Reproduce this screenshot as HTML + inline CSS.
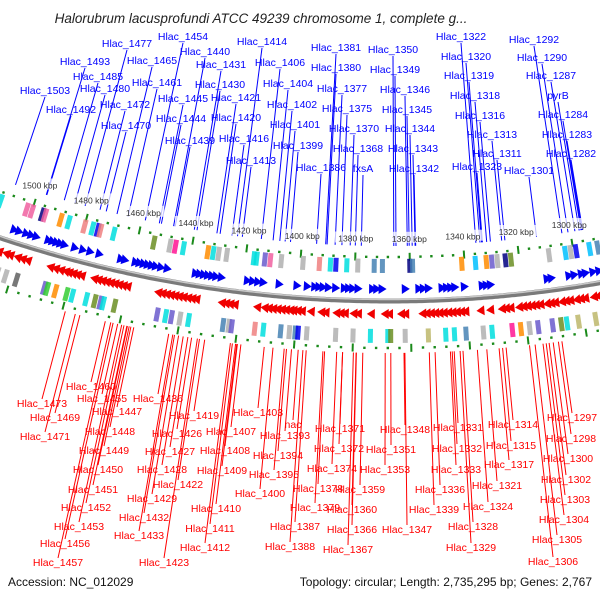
<!DOCTYPE html>
<html><head><meta charset="utf-8"><style>
html,body{margin:0;padding:0;background:#fff;}
svg{display:block;font-family:"Liberation Sans","DejaVu Sans",sans-serif;}
</style></head><body>
<svg id="map" width="600" height="600" viewBox="0 0 600 600" xmlns="http://www.w3.org/2000/svg">
<rect width="600" height="600" fill="#fff"/>
<text x="261" y="23" text-anchor="middle" font-size="13.5" font-style="italic" fill="#222">Halorubrum lacusprofundi ATCC 49239 chromosome 1, complete g...</text>
<g id="rings"></g>
<g id="labels"></g>
<text x="8" y="586" font-size="12" fill="#111">Accession: NC_012029</text>
<text x="592" y="586" text-anchor="end" font-size="12" fill="#111">Topology: circular; Length: 2,735,295 bp; Genes: 2,767</text>
</svg>
<script>
// ---- data (positions in kbp) ----
const fwdGenes=[1513.3,1503.8,1501.9,1499.3,1497.4,1495.5,1491,1489.5,1488,1486.5,1485,1481.2,1478.2,1475.5,1472.1,1464.2,1462.7,1458.9,1457.4,1455.9,1454.4,1452.9,1451.4,1449.5,1447.2,1437,1435.5,1434,1432.5,1431,1429.5,1427.6,1418.2,1416.3,1414.4,1412.5,1406.8,1400.4,1396.7,1394,1392.5,1391,1389.1,1386.5,1383.4,1381.9,1380.4,1378.5,1373.3,1371.8,1369.9,1361.6,1356.7,1355.1,1353.3,1348.4,1346.8,1345.3,1343.8,1340.4,1334,1332.5,1331,1310.6,1309.1,1302.7,1300.8,1298.2,1296.7,1294,1291.8,1289.5];
const revGenes=[1514.4,1512.5,1510.6,1508.7,1506.8,1504.2,1502.7,1500,1498.2,1496.3,1488,1486.1,1484.2,1482.4,1481.2,1479.7,1478.2,1476.6,1472.1,1470.6,1469.1,1467.6,1466.1,1464.6,1463.1,1461.6,1460.1,1449.1,1447.6,1446.1,1444.6,1443.1,1441.6,1440.1,1438.5,1437,1435.5,1426.5,1425,1423.5,1421.9,1414,1411.4,1409.9,1408.4,1406.8,1405.3,1403.8,1402.3,1401.2,1399.7,1398.2,1395.1,1391.4,1389.9,1386.1,1384.6,1383.1,1380.1,1378.5,1374,1369.1,1367.6,1363.4,1361.9,1355.9,1354.4,1352.9,1351.4,1349.9,1348.4,1346.8,1345.3,1343.8,1342.3,1340.8,1335.5,1332.1,1328,1326.5,1324.9,1321.9,1320.4,1318.9,1317.4,1315.9,1314.4,1312.1,1310.6,1309.1,1306.8,1305.3,1303.8,1301.6,1300.1,1298.5,1295.5,1294,1291.8,1289.5];
const topCogPos=[1512,1502,1500,1496,1495,1489,1486,1480,1477,1475,1474,1469,1454,1448,1446,1443,1434,1432,1430,1427,1417,1416,1413,1411,1407,1399,1393,1389,1387,1383,1379,1373,1370,1360,1359,1341,1336,1332,1330,1328,1325,1323,1309,1303,1301,1299,1294,1291];
const topCogCol=["c","hp","hp","n","hp","o","c","s","c","b","s","c","ol","g","dp","c","o","c","g","g","c","c","sb","hp","g","g","s","c","b","c","g","st","st","n","st","o","ds","o","sb","g","n","ol","g","ds","g","b","ds","st"];
const botCogPos=[1513,1512,1510,1505,1502,1498,1488,1487,1484,1480,1478,1473,1470,1468,1467,1463,1448,1445,1443,1440,1437,1425,1423,1422,1414,1411,1405,1402,1400,1399,1396,1386,1380,1374,1368,1367,1362,1354,1348,1345,1341,1335,1332,1325,1322,1319,1316,1311,1308,1306,1302,1296,1293];
const botCogCol=["sb","n","o","g","g","dg","sb","gr","o","gr","c","c","ol","sb","c","ol","sb","c","sb","g","c","st","g","sb","s","c","st","g","st","b","g","g","g","c","c","ol","g","kh","c","c","st","g","c","dp","o","g","sb","sb","ol","c","kh","kh","sb"];
const tickKbp=[1300,1320,1340,1360,1380,1400,1420,1440,1460,1480,1500];
const tickLabels=["1300 kbp","1320 kbp","1340 kbp","1360 kbp","1380 kbp","1400 kbp","1420 kbp","1440 kbp","1460 kbp","1480 kbp","1500 kbp"];
const fwdNames=["Hlac_1503","Hlac_1492","Hlac_1485","Hlac_1493","Hlac_1480","Hlac_1477","Hlac_1472","Hlac_1470","Hlac_1465","Hlac_1461","Hlac_1454","Hlac_1445","Hlac_1444","Hlac_1440","Hlac_1439","Hlac_1431","Hlac_1430","Hlac_1421","Hlac_1420","Hlac_1416","Hlac_1414","Hlac_1413","Hlac_1406","Hlac_1404","Hlac_1402","Hlac_1401","Hlac_1399","Hlac_1386","Hlac_1381","Hlac_1380","Hlac_1377","Hlac_1375","Hlac_1370","Hlac_1368","fxsA","Hlac_1350","Hlac_1349","Hlac_1346","Hlac_1345","Hlac_1344","Hlac_1343","Hlac_1342","Hlac_1323","Hlac_1322","Hlac_1320","Hlac_1319","Hlac_1318","Hlac_1316","Hlac_1313","Hlac_1311","Hlac_1301","Hlac_1292","Hlac_1290","Hlac_1287","pyrB","Hlac_1284","Hlac_1283","Hlac_1282"];
const fwdKbp=[1508.7,1496.5,1489.7,1496.7,1485.6,1481.7,1476,1473.6,1469.5,1465.3,1458.7,1453.4,1452.6,1448,1447.4,1440.2,1439.2,1431.7,1430.5,1426.1,1424,1422.2,1415.1,1410.7,1408.2,1406.2,1404.2,1394.5,1391.1,1390.6,1387.6,1385.1,1382,1380.1,1377.9,1365.8,1365,1360.8,1360.1,1359,1357.9,1357.7,1332.9,1335.3,1333.8,1333.2,1331.3,1329.9,1325.7,1324.5,1312.7,1303.2,1300.9,1298.3,1296.7,1296,1295.7,1295.4];
const fwdLabX=[45,71,98,85,105,127,125,126,152,157,183,183,181,205,190,221,220,236,236,244,262,251,280,288,292,295,298,321,336,336,342,347,354,358,363,393,395,405,407,410,413,414,477,461,466,469,475,480,492,497,529,534,542,551,558,563,567,571];
const fwdLabY=[94,113,80,65,92,47,108,129,64,86,40,102,122,55,144,68,88,101,121,142,45,164,66,87,108,128,149,171,51,71,92,112,132,152,172,53,73,93,113,132,152,172,170,40,60,79,99,119,138,157,174,43,61,79,99,118,138,157];
const revNames=["Hlac_1460","Hlac_1473","Hlac_1455","Hlac_1436","Hlac_1447","Hlac_1469","Hlac_1419","Hlac_1403","Hlac_1426","Hlac_1407","nac","Hlac_1448","Hlac_1471","Hlac_1393","Hlac_1427","Hlac_1408","Hlac_1449","Hlac_1394","Hlac_1371","Hlac_1372","Hlac_1348","Hlac_1331","Hlac_1314","Hlac_1297","Hlac_1298","Hlac_1315","Hlac_1332","Hlac_1351","Hlac_1428","Hlac_1409","Hlac_1450","Hlac_1395","Hlac_1374","Hlac_1353","Hlac_1333","Hlac_1317","Hlac_1300","Hlac_1422","Hlac_1400","Hlac_1451","Hlac_1378","Hlac_1359","Hlac_1336","Hlac_1321","Hlac_1302","Hlac_1429","Hlac_1410","Hlac_1452","Hlac_1379","Hlac_1360","Hlac_1339","Hlac_1324","Hlac_1303","Hlac_1432","Hlac_1411","Hlac_1453","Hlac_1387","Hlac_1366","Hlac_1347","Hlac_1328","Hlac_1304","Hlac_1433","Hlac_1412","Hlac_1456","Hlac_1388","Hlac_1367","Hlac_1329","Hlac_1305","Hlac_1423","Hlac_1457","Hlac_1306"];
const revKbp=[1464.9,1478.9,1460.6,1442.9,1455,1473.8,1430.5,1410.1,1435,1418.1,1398.5,1456,1475.4,1400.8,1436.3,1419.3,1456.6,1402.5,1383.4,1383.4,1362.5,1345.4,1327.7,1308.6,1309.8,1328.9,1346.1,1367,1437.9,1419.5,1457.2,1403.3,1385.4,1368.9,1346.7,1330.1,1311.6,1432.3,1407.1,1457.4,1389.5,1376.5,1351.9,1334.3,1313,1439.5,1419.9,1458.4,1390.1,1378.8,1353.9,1337.5,1314,1440.9,1421,1459.2,1395.8,1378.7,1362.2,1342.4,1315.1,1441.5,1421.7,1462.2,1396.9,1379.7,1343.4,1317.8,1433,1463,1319.7];
const revLabX=[91,42,102,158,117,55,194,258,177,231,293,110,45,285,170,225,104,278,340,339,405,458,513,572,571,511,457,391,162,222,98,274,332,385,456,509,568,178,260,93,318,360,440,497,566,152,216,86,315,352,434,488,565,144,210,79,295,352,407,473,564,139,205,65,290,348,471,557,164,58,553];
const revLabY=[390,407,402,402,415,421,419,416,437,435,428,435,440,439,455,454,454,459,432,452,433,431,428,421,442,449,452,453,473,474,473,478,472,473,473,468,462,488,497,493,492,493,493,489,483,502,512,511,511,513,513,510,503,521,532,530,530,533,533,530,523,539,551,547,550,553,551,543,566,566,565];

// ---- geometry ----
const CX=389, CY=-927, R=1228, C0=1367.6, DEG=0.1316;
const colors={c:"#00dede",hp:"#f060a0",n:"#000080",o:"#ff8c00",s:"#ee8080",b:"#0000ee",ol:"#6b8e23",g:"#b0b0b0",dp:"#ff1493",sb:"#6a5acd",st:"#4682b4",ds:"#00bfff",dg:"#606060",gr:"#32cd32",kh:"#bdb76b"};
function ang(k){return (C0-k)*DEG;}
function pt(k,r){const a=ang(k)*Math.PI/180;return [CX+r*Math.sin(a),CY+r*Math.cos(a)];}
const NS="http://www.w3.org/2000/svg";
function mk(tag,parent){const e=document.createElementNS(NS,tag);parent.appendChild(e);return e;}
const rings=document.getElementById('rings');
const labels=document.getElementById('labels');

// backbone
let d="";for(let k=1530;k>=1270;k-=1){const p=pt(k,R);d+=(k===1530?"M":"L")+p[0].toFixed(1)+" "+p[1].toFixed(1);}
const bb=mk('path',rings);bb.setAttribute('d',d);bb.setAttribute('stroke','#7a7a7a');bb.setAttribute('stroke-width','5');bb.setAttribute('fill','none');


const bb2=mk('path',rings);bb2.setAttribute('d',d);bb2.setAttribute('stroke','#c8c8c8');bb2.setAttribute('stroke-width','1.5');bb2.setAttribute('fill','none');bb2.setAttribute('transform','translate(0,-1.5)');



// ticks dots and bars
for(let k=1288;k<=1516;k+=4){
  [R-44,R+47].forEach(function(r){
    const p=pt(k,r);const big=(k%20===0);
    const e=mk('rect',rings);
    
    
    const w=big?2:2.4,h=big?8:2.4;
    e.setAttribute('x',-w/2);e.setAttribute('y',-h/2);e.setAttribute('width',w);e.setAttribute('height',h);
    e.setAttribute('fill','#1a8a1a');
    e.setAttribute('transform','translate('+p[0].toFixed(1)+','+p[1].toFixed(1)+') rotate('+(-ang(k)).toFixed(2)+')');
  });
}
// COG boxes
function cog(pos,col,r){pos.forEach(function(k,i){const p=pt(k,r);const e=mk('rect',rings);
  
  
  e.setAttribute('x',-2.5);e.setAttribute('y',-7);e.setAttribute('width',5);e.setAttribute('height',14);
  e.setAttribute('fill',colors[col[i]]||'#aaa');e.setAttribute('opacity','0.85');
  e.setAttribute('transform','translate('+p[0].toFixed(1)+','+p[1].toFixed(1)+') rotate('+(-ang(k)).toFixed(2)+')');});}
cog(topCogPos,topCogCol,R-35);
cog(botCogPos,botCogCol,R+35);
// arrows
fwdGenes.forEach(function(k){const p=pt(k,R-12);const e=mk('polygon',rings);
  
  
  e.setAttribute('points','-4,-5 4,0 -4,5');e.setAttribute('fill','#0000f0');
  e.setAttribute('transform','translate('+p[0].toFixed(1)+','+p[1].toFixed(1)+') rotate('+(-ang(k)).toFixed(2)+')');});
revGenes.forEach(function(k){const p=pt(k,R+13);const e=mk('polygon',rings);
  
  
  e.setAttribute('points','4,-5 -4,0 4,5');e.setAttribute('fill','#f00000');
  e.setAttribute('transform','translate('+p[0].toFixed(1)+','+p[1].toFixed(1)+') rotate('+(-ang(k)).toFixed(2)+')');});

// label lines + labels
fwdNames.forEach(function(n,i){const p=pt(fwdKbp[i],R-55);const l=mk('line',labels);
  
  
  l.setAttribute('x1',fwdLabX[i]);l.setAttribute('y1',fwdLabY[i]+3);l.setAttribute('x2',p[0].toFixed(1));l.setAttribute('y2',p[1].toFixed(1));
  l.setAttribute('stroke','#0000ff');l.setAttribute('stroke-width','1');});
revNames.forEach(function(n,i){const p=pt(revKbp[i],R+52);const l=mk('line',labels);
  
  
  l.setAttribute('x1',p[0].toFixed(1));l.setAttribute('y1',p[1].toFixed(1));l.setAttribute('x2',revLabX[i]);l.setAttribute('y2',revLabY[i]-8);
  l.setAttribute('stroke','#ff0000');l.setAttribute('stroke-width','1');});
// tick labels
tickKbp.forEach(function(k,i){const p=pt(k,R-62);
  const bg=mk('rect',labels);
  
  
  bg.setAttribute('x',(p[0]-21).toFixed(1));bg.setAttribute('y',(p[1]-7).toFixed(1));bg.setAttribute('width',42);bg.setAttribute('height',11);bg.setAttribute('fill','#fff');bg.setAttribute('opacity','0.75');
  const t=mk('text',labels);
  
  
  t.setAttribute('x',p[0].toFixed(1));t.setAttribute('y',(p[1]+3).toFixed(1));t.setAttribute('text-anchor','middle');t.setAttribute('font-size','8.5');t.setAttribute('fill','#333');
  t.textContent=tickLabels[i];});
fwdNames.forEach(function(n,i){const t=mk('text',labels);
  
  
  t.setAttribute('x',fwdLabX[i]);t.setAttribute('y',fwdLabY[i]);t.setAttribute('text-anchor','middle');t.setAttribute('font-size','10.5');t.setAttribute('fill','#0000ff');
  t.textContent=n;});
revNames.forEach(function(n,i){const t=mk('text',labels);
  
  
  t.setAttribute('x',revLabX[i]);t.setAttribute('y',revLabY[i]);t.setAttribute('text-anchor','middle');t.setAttribute('font-size','10.5');t.setAttribute('fill','#ff0000');
  t.textContent=n;});
</script>
</body></html>
